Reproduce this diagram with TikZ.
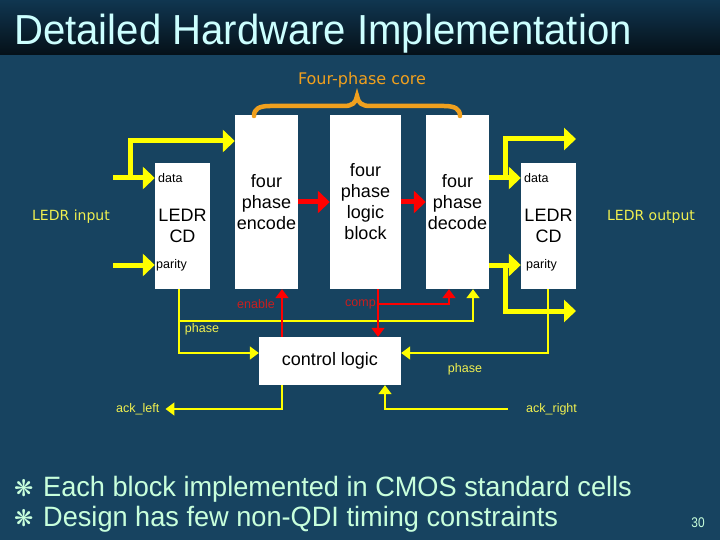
\documentclass[tikz,border=0pt]{standalone}
\usepackage{fontspec}
\setmainfont{Liberation Sans}
\newfontfamily\titlefont[FakeStretch=0.955]{Liberation Sans}
\newfontfamily\bulfont[FakeStretch=0.97]{Liberation Sans}
\newfontfamily\condfont[FakeStretch=0.85]{Liberation Sans}
\newfontfamily\verdfont{DejaVu Sans}
\usetikzlibrary{arrows.meta,calc}
\definecolor{bg}{RGB}{23,67,96}
\definecolor{titletop}{RGB}{16,54,80}
\definecolor{titlebot}{RGB}{5,16,24}
\definecolor{titletxt}{RGB}{204,255,255}
\definecolor{bullettxt}{RGB}{200,255,220}
\definecolor{yel}{RGB}{255,255,0}
\definecolor{lyel}{RGB}{240,240,80}
\definecolor{red1}{RGB}{255,0,0}
\definecolor{redtxt}{RGB}{200,30,30}
\definecolor{orng}{RGB}{240,160,30}
\tikzset{
  blk/.style={fill=white,draw=none,inner sep=0pt,align=center,font=\fontsize{18}{21}\selectfont},
  small/.style={inner sep=0pt,font=\fontsize{12.5}{14}\selectfont},
  thickY/.style={draw=yel,line width=5pt,-{Triangle[length=12pt,width=22pt]}},
  thinY/.style={draw=yel,line width=1.8pt,-{Triangle[length=9pt,width=13pt]}},
  thickR/.style={draw=red1,line width=5pt,-{Triangle[length=12pt,width=22pt]}},
  thinR/.style={draw=red1,line width=1.8pt,-{Triangle[length=9pt,width=13pt]}},
  ylab/.style={small,text=lyel},
  rlab/.style={small,text=redtxt},
  bullet/.style={anchor=base west,inner sep=0pt,text=bullettxt,font=\bulfont\fontsize{28}{30}\selectfont},
  bulsym/.style={anchor=base west,inner sep=0pt,text=bullettxt,font=\verdfont\fontsize{23}{24}\selectfont},
}
\begin{document}
\begin{tikzpicture}[x=1pt,y=-1pt]
\useasboundingbox (0,0) rectangle (720,540);
\fill[bg] (0,0) rectangle (720,540);
\shade[top color=titletop,bottom color=titlebot] (0,0) rectangle (720,55);
\node[anchor=base west,inner sep=0pt,text=titletxt,font=\titlefont\fontsize{42}{44}\selectfont] (title) at (14,45) {Detailed Hardware Implementation};

% blocks
\node[blk,minimum width=55pt,minimum height=126pt] (ledrL) at (182.5,226) {LEDR\\CD};
\node[blk,minimum width=63pt,minimum height=174pt] (enc) at (266.5,202) {four\\phase\\encode};
\node[blk,minimum width=71pt,minimum height=174pt] (logic) at (365.5,202) {four\\phase\\logic\\block};
\node[blk,minimum width=63pt,minimum height=174pt] (dec) at (457.5,202) {four\\phase\\decode};
\node[blk,minimum width=55pt,minimum height=126pt] (ledrR) at (548.5,226) {LEDR\\CD};
\node[blk,minimum width=142pt,minimum height=48pt] (ctrl) at (330,361) {control logic};

\node[small,anchor=west] (dataL) at (158,178) {data};
\node[small,anchor=west] (parL) at (156,265) {parity};
\node[small,anchor=west] (dataR) at (524,178) {data};
\node[small,anchor=west] (parR) at (526,265) {parity};

% labels
\node[inner sep=0pt,text=lyel,font=\verdfont\fontsize{14}{15}\selectfont] (inlab) at (71,217) {LEDR input};
\node[inner sep=0pt,text=lyel,font=\verdfont\fontsize{14}{15}\selectfont] (outlab) at (651,217) {LEDR output};
\node[inner sep=0pt,text=orng,font=\verdfont\fontsize{16}{18}\selectfont] (core) at (362,80) {Four-phase core};

% brace
\draw[orng,line width=4.5pt,line cap=round] (254,116) .. controls (254,109) and (259,106) .. (270,106) -- (344,106) .. controls (352,106) and (356,103) .. (357,96) .. controls (358,103) and (362,106) .. (370,106) -- (444,106) .. controls (455,106) and (460,109) .. (460,116);

% left thick inputs
\coordinate (inL1) at (113,178);
\coordinate (inL2) at (113,265);
\coordinate (brL) at (130,178);
\draw[thickY] (inL1) -- (ledrL.west |- inL1);
\draw[thickY] (brL) |- (enc.west |- 0,141);
\draw[thickY] (inL2) -- (ledrL.west |- inL2);

% right thick outputs
\coordinate (brR1) at (505,178);
\coordinate (brR2) at (505,265);
\coordinate (outR1) at (576,139);
\coordinate (outR2) at (576,311);
\draw[thickY] (dec.east |- dataR) -- (ledrR.west |- dataR);
\draw[thickY] (dec.east |- parR) -- (ledrR.west |- parR);
\draw[thickY] (brR1) |- (outR1);
\draw[thickY] (brR2) |- (outR2);

% red thick
\draw[thickR] (enc.east |- 0,202) -- (logic.west |- 0,202);
\draw[thickR] (logic.east |- 0,202) -- (dec.west |- 0,202);

% thin yellow: left phase
\coordinate (phL) at (179,321);
\draw[thinY] (ledrL.south -| 179,0) |- (ctrl.west |- 0,353);
\draw[thinY] (phL) -| (dec.south -| 473,0);
\node[ylab] (phaseL) at (202,329) {phase};

% thin red enable
\draw[thinR] (ctrl.north -| 282,0) -- (enc.south -| 282,0);
\node[rlab] (enlab) at (256,304) {enable};

% comp
\coordinate (cpB) at (378,304);
\draw[thinR] (logic.south -| 378,0) -- (ctrl.north -| 378,0);
\draw[thinR] (cpB) -| (dec.south -| 449,0);
\node[rlab,anchor=east] (cplab) at (376,304) {comp};

% right phase
\draw[thinY] (ledrR.south -| 548,0) |- (ctrl.east |- 0,353);
\node[ylab] (phaseR) at (465,369) {phase};

% acks
\node[ylab,anchor=west] (acklab) at (116,409) {ack\_left};
\node[ylab,anchor=west] (ackrlab) at (526,409) {ack\_right};
\coordinate (ackR) at (508,409);
\draw[thinY] (ctrl.south -| 282,0) |- ([xshift=6pt]acklab.east);
\draw[thinY] (ackR) -| (ctrl.south -| 385,0);

% bullets
\node[bulsym] (s1) at (14,496) {❋};
\node[bullet] (b1) at (43,496) {Each block implemented in CMOS standard cells};
\node[bulsym] (s2) at (14,526) {❋};
\node[bullet] (b2) at (43,526) {Design has few non-QDI timing constraints};
\node[anchor=base,inner sep=0pt,text=bullettxt,font=\condfont\fontsize{14}{16}\selectfont] (pg) at (698,527) {30};
\end{tikzpicture}
\end{document}
